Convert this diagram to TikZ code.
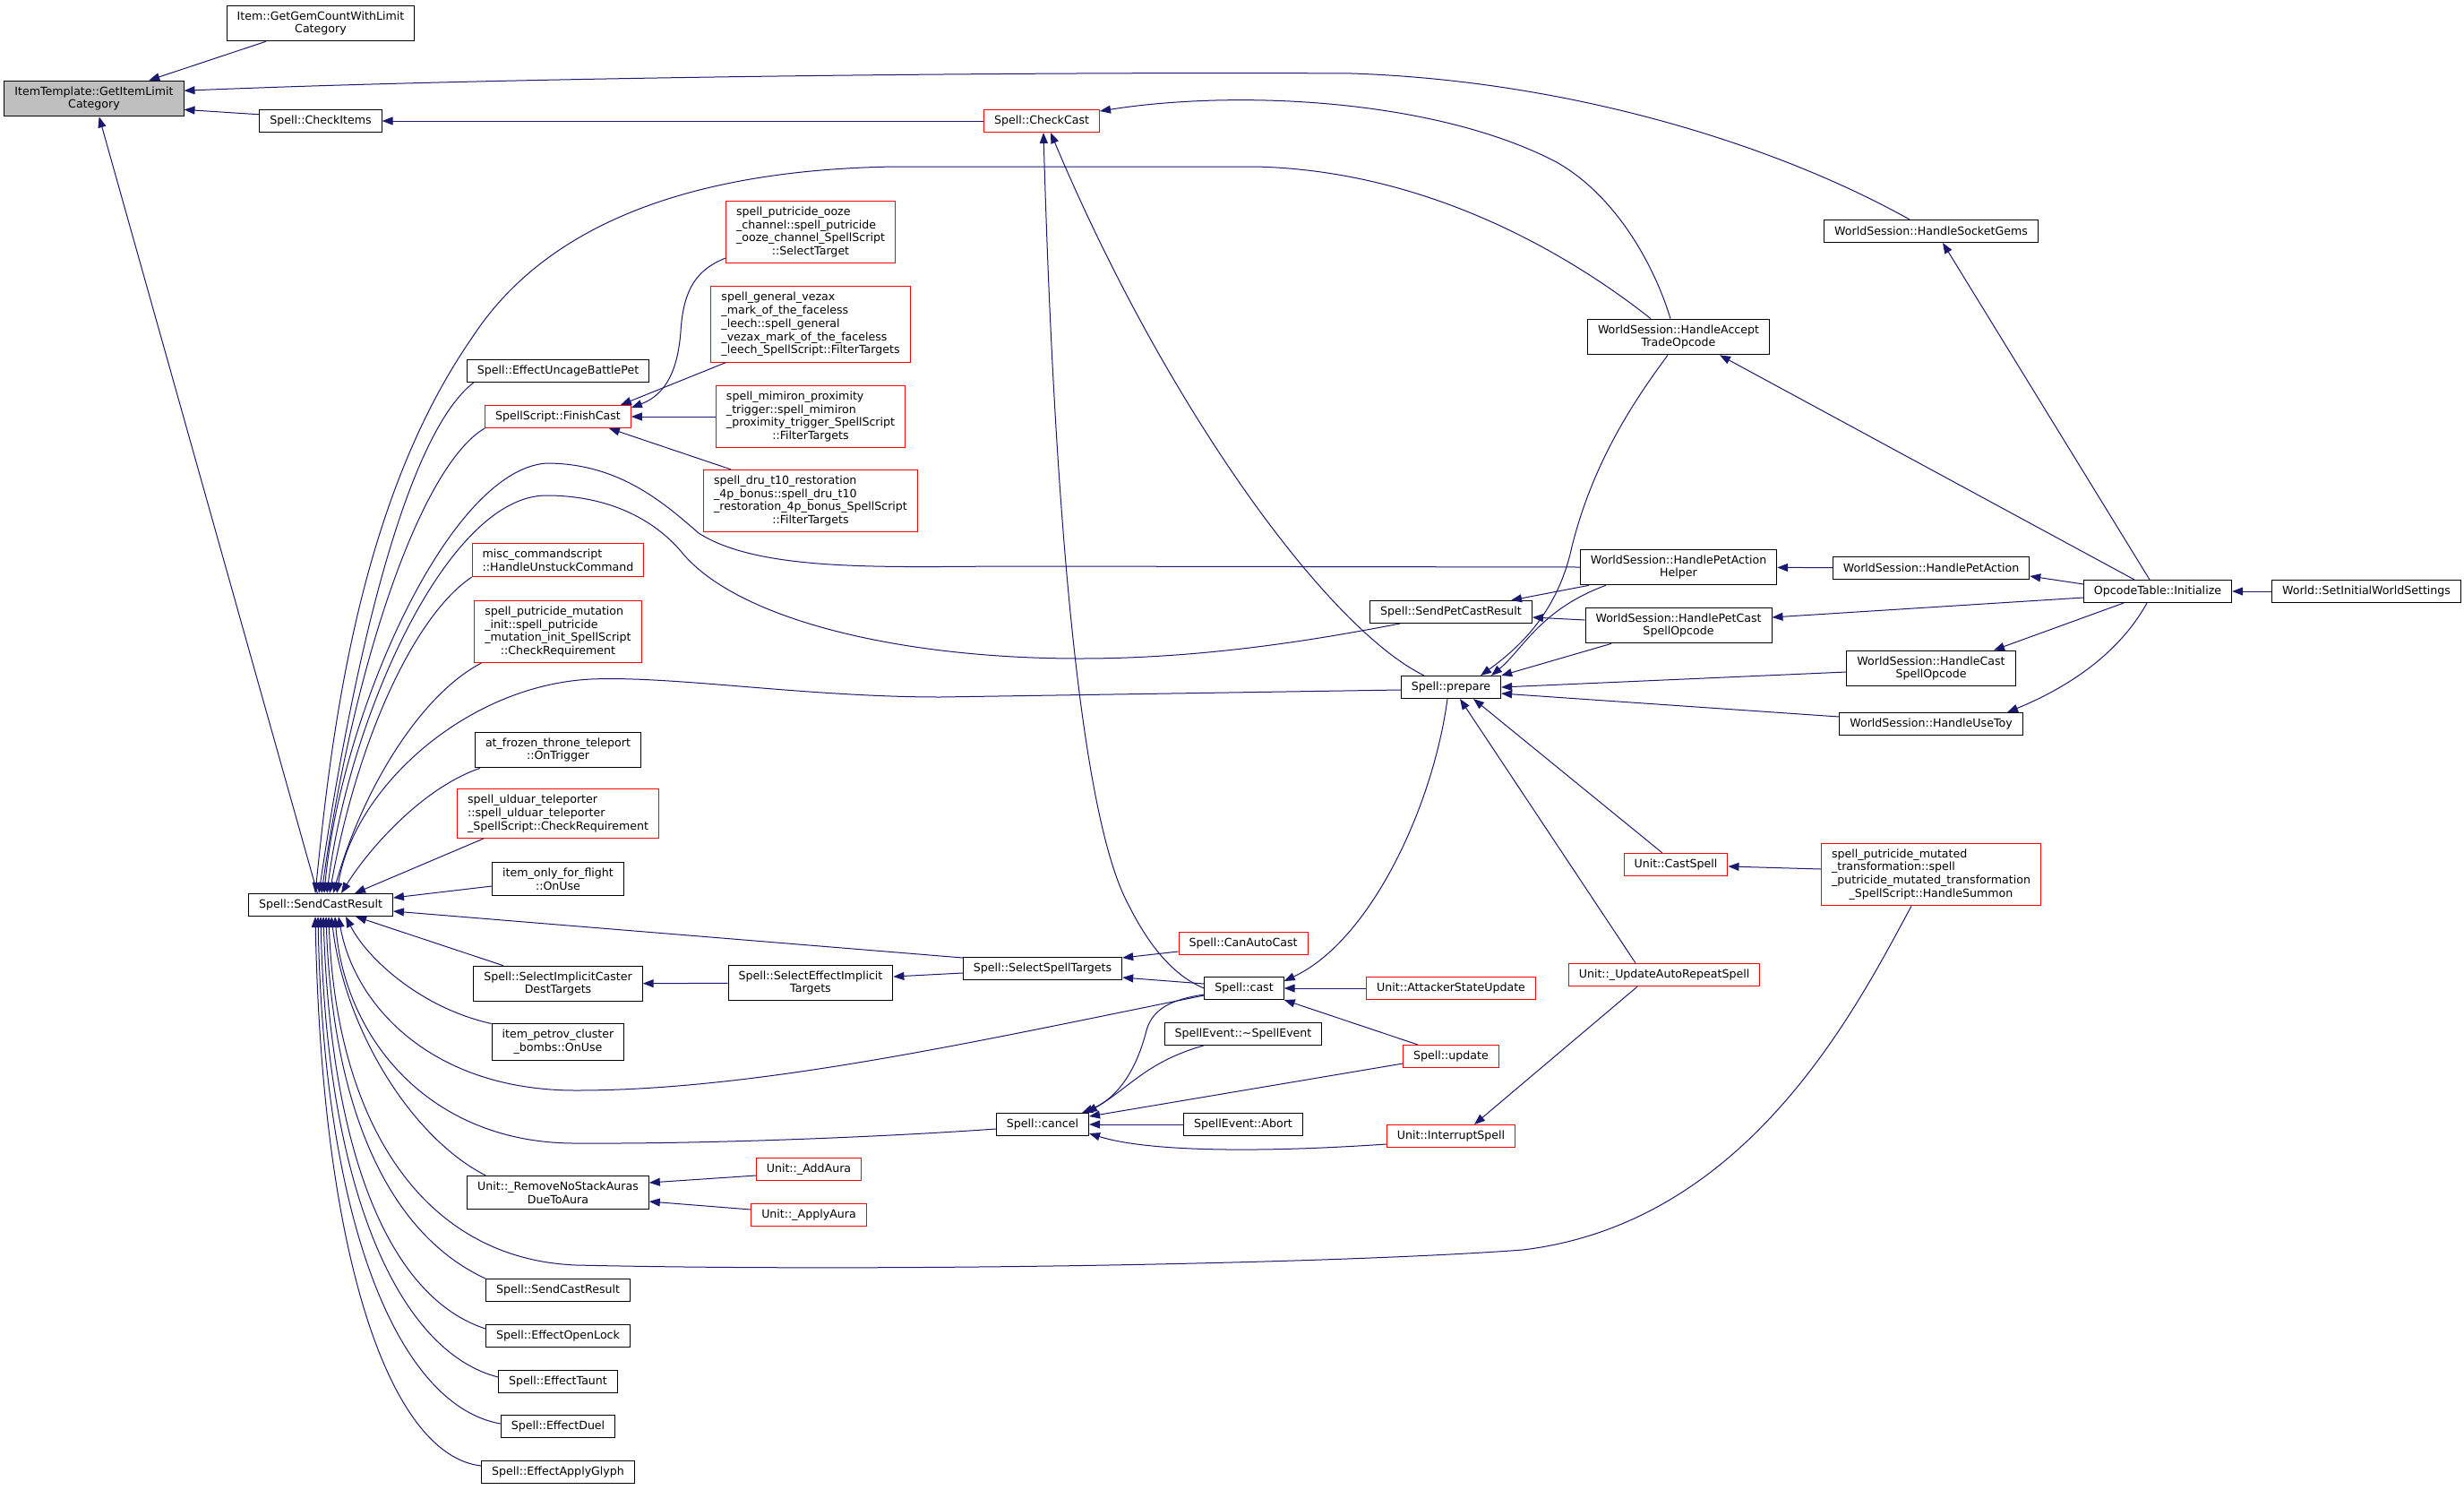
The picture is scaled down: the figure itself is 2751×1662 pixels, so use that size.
\documentclass[tikz,border=0pt]{standalone}
\usepackage{fontspec}
\setmainfont{DejaVu Sans}
\usetikzlibrary{arrows.meta}
\definecolor{Navy}{HTML}{191970}
\definecolor{Alert}{HTML}{FF0000}
\definecolor{Shade}{HTML}{BFBFBF}

\begin{document}
\begin{tikzpicture}[x=1pt,y=-1pt,
  fn/.style={draw=black,line width=1pt,fill=white,align=left,inner xsep=11.5pt,inner ysep=6.4pt,minimum height=25pt,font=\fontsize{12.6}{14.7}\selectfont},
  fnred/.style={fn,draw=Alert},
  call/.style={Navy,line width=1pt,{Triangle[length=12pt,width=9pt]}-}]
  \path[fill=white,use as bounding box] (0,0) rectangle (2751,1662);

  \node[fn,fill=Shade] (root) at (105,110) {ItemTemplate::GetItemLimit\\\hfil Category};
  \node[fn] (gemcount) at (358,26) {Item::GetGemCountWithLimit\\\hfil Category};
  \node[fn] (checkitems) at (358,135) {Spell::CheckItems};
  \node[fn] (scr) at (358,1010) {Spell::SendCastResult};

  \node[fn] (uncage) at (623,414) {Spell::EffectUncageBattlePet};
  \node[fnred] (finishcast) at (623,465) {SpellScript::FinishCast};
  \node[fnred] (misc) at (623,625) {misc\_commandscript\\::HandleUnstuckCommand};
  \node[fnred] (mutinit) at (623,705) {spell\_putricide\_mutation\\\_init::spell\_putricide\\\_mutation\_init\_SpellScript\\\hfil ::CheckRequirement};
  \node[fn] (frozen) at (623,837) {at\_frozen\_throne\_teleport\\\hfil ::OnTrigger};
  \node[fnred] (ulduar) at (623,908) {spell\_ulduar\_teleporter\\::spell\_ulduar\_teleporter\\\_SpellScript::CheckRequirement};
  \node[fn] (flight) at (623,981) {item\_only\_for\_flight\\\hfil ::OnUse};
  \node[fn] (casterdest) at (623,1098) {Spell::SelectImplicitCaster\\\hfil DestTargets};
  \node[fn] (petrov) at (623,1163) {item\_petrov\_cluster\\\hfil \_bombs::OnUse};
  \node[fn] (removenostack) at (623,1331) {Unit::\_RemoveNoStackAuras\\\hfil DueToAura};
  \node[fn] (scr2) at (623,1440) {Spell::SendCastResult};
  \node[fn] (openlock) at (623,1491) {Spell::EffectOpenLock};
  \node[fn] (taunt) at (623,1542) {Spell::EffectTaunt};
  \node[fn] (duel) at (623,1592) {Spell::EffectDuel};
  \node[fn] (glyph) at (623,1643) {Spell::EffectApplyGlyph};

  \node[fnred] (ooze) at (905,259) {spell\_putricide\_ooze\\\_channel::spell\_putricide\\\_ooze\_channel\_SpellScript\\\hfil ::SelectTarget};
  \node[fnred] (vezax) at (905,362) {spell\_general\_vezax\\\_mark\_of\_the\_faceless\\\_leech::spell\_general\\\_vezax\_mark\_of\_the\_faceless\\\_leech\_SpellScript::FilterTargets};
  \node[fnred] (mimiron) at (905,465) {spell\_mimiron\_proximity\\\_trigger::spell\_mimiron\\\_proximity\_trigger\_SpellScript\\\hfil ::FilterTargets};
  \node[fnred] (dru) at (905,559) {spell\_dru\_t10\_restoration\\\_4p\_bonus::spell\_dru\_t10\\\_restoration\_4p\_bonus\_SpellScript\\\hfil ::FilterTargets};
  \node[fn] (effimplicit) at (905,1097) {Spell::SelectEffectImplicit\\\hfil Targets};
  \node[fnred] (addaura) at (903,1305) {Unit::\_AddAura};
  \node[fnred] (applyaura) at (903,1356) {Unit::\_ApplyAura};

  \node[fnred] (checkcast) at (1163,135) {Spell::CheckCast};
  \node[fn] (selectspell) at (1164,1081) {Spell::SelectSpellTargets};
  \node[fn] (cancel) at (1164,1255) {Spell::cancel};
  \node[fnred] (canautocast) at (1388,1053) {Spell::CanAutoCast};
  \node[fn] (cast) at (1389,1103) {Spell::cast};
  \node[fn] (spellevdtor) at (1388,1154) {SpellEvent::\textasciitilde SpellEvent};
  \node[fn] (abort) at (1388,1255) {SpellEvent::Abort};
  \node[fn] (sendpet) at (1620,683) {Spell::SendPetCastResult};
  \node[fn] (prepare) at (1620,767) {Spell::prepare};
  \node[fnred] (attacker) at (1620,1103) {Unit::AttackerStateUpdate};
  \node[fnred] (update) at (1620,1179) {Spell::update};
  \node[fnred] (interrupt) at (1620,1268) {Unit::InterruptSpell};

  \node[fn] (accept) at (1874,376) {WorldSession::HandleAccept\\\hfil TradeOpcode};
  \node[fn] (helper) at (1874,633) {WorldSession::HandlePetAction\\\hfil Helper};
  \node[fn] (petcast) at (1874,698) {WorldSession::HandlePetCast\\\hfil SpellOpcode};
  \node[fnred] (castspell) at (1871,965) {Unit::CastSpell};
  \node[fnred] (autorepeat) at (1858,1088) {Unit::\_UpdateAutoRepeatSpell};
  \node[fn] (socketgems) at (2156,258) {WorldSession::HandleSocketGems};
  \node[fn] (petaction) at (2156,634) {WorldSession::HandlePetAction};
  \node[fn] (castspellop) at (2156,746) {WorldSession::HandleCast\\\hfil SpellOpcode};
  \node[fn] (usetoy) at (2156,808) {WorldSession::HandleUseToy};
  \node[fnred] (mutated) at (2156,976) {spell\_putricide\_mutated\\\_transformation::spell\\\_putricide\_mutated\_transformation\\\hfil \_SpellScript::HandleSummon};
  \node[fn] (initialize) at (2409,660) {OpcodeTable::Initialize};
  \node[fn] (worldset) at (2642,660) {World::SetInitialWorldSettings};

  \draw[call] (root) -- (gemcount);
  \draw[call] (root.5) .. controls (600,85) and (1200,80) .. (1509,82) .. controls (1750,90) and (1980,160) .. ([xshift=-24pt]socketgems.north);
  \draw[call] (root.353) -- (checkitems.174);
  \draw[call] (root) -- (scr);
  \draw[call] (checkitems) -- (checkcast);
  \draw[call] ([yshift=-2pt]checkcast.north east) .. controls (1380,100) and (1600,110) .. (1736,180) .. controls (1800,215) and (1845,290) .. ([xshift=-9pt]accept.north);
  \draw[call] ([xshift=2pt]checkcast.south) .. controls (1175,500) and (1200,900) .. (1260,1010) .. controls (1290,1070) and (1320,1093) .. (cast.west);
  \draw[call] ([xshift=10pt]checkcast.south) .. controls (1300,450) and (1480,700) .. ([xshift=-30pt]prepare.north);

  \draw[call] ([xshift=-6pt]scr.north) .. controls (370,820) and (400,560) .. (527,377) .. controls (590,280) and (720,190) .. (1000,186) -- (1400,186) .. controls (1600,190) and (1760,290) .. ([xshift=-31pt]accept.north);
  \draw[call] ([xshift=-2pt]scr.north) .. controls (400,700) and (460,480) .. ([xshift=8pt]uncage.south west);
  \draw[call] ([xshift=1pt]scr.north) .. controls (395,740) and (470,520) .. (finishcast.south west);
  \draw[call] ([xshift=4pt]scr.north) .. controls (380,800) and (500,525) .. (610,517) .. controls (690,517) and (740,560) .. (780,595) .. controls (850,640) and (1000,632) .. (1140,632) -- (helper.west);
  \draw[call] ([xshift=7pt]scr.north) .. controls (390,800) and (500,553) .. (610,553) .. controls (680,553) and (730,580) .. (760,615) .. controls (820,690) and (1000,735) .. (1206,735) .. controls (1350,735) and (1480,712) .. ([xshift=-57pt]sendpet.south);
  \draw[call] ([xshift=10pt]scr.north) .. controls (400,820) and (465,685) .. (misc.south west);
  \draw[call] ([xshift=14pt]scr.north) .. controls (405,880) and (470,775) .. ([xshift=8pt]mutinit.south west);
  \draw[call] ([xshift=18pt]scr.north) .. controls (395,880) and (520,765) .. (660,758) .. controls (750,754) and (900,778) .. (1050,778) -- ([yshift=-3pt]prepare.west);
  \draw[call] ([xshift=23pt]scr.north) .. controls (410,950) and (470,880) .. ([xshift=6pt]frozen.south west);
  \draw[call] ([xshift=38pt]scr.north) -- ([xshift=30pt]ulduar.south west);
  \draw[call] ([yshift=8pt]scr.east) -- ([yshift=-8pt]flight.west);

  \draw[call] ([yshift=-7pt]scr.east) -- ([yshift=12pt]selectspell.west);
  \draw[call] (scr) -- (casterdest);
  \draw[call] ([xshift=28pt]scr.south) .. controls (410,1070) and (470,1125) .. (petrov.north west);
  \draw[call] ([xshift=20pt]scr.south) .. controls (395,1120) and (480,1217) .. (643,1217) .. controls (850,1217) and (1100,1160) .. ([yshift=-8pt]cast.west);
  \draw[call] ([xshift=16pt]scr.south) .. controls (385,1160) and (480,1275) .. (640,1276) .. controls (800,1277) and (1000,1268) .. ([yshift=-5pt]cancel.west);
  \draw[call] ([xshift=12pt]scr.south) .. controls (385,1150) and (460,1270) .. ([xshift=21pt]removenostack.north west);
  \draw[call] ([xshift=9pt]scr.south) .. controls (375,1250) and (470,1405) .. (643,1412) .. controls (1000,1420) and (1500,1410) .. (1700,1395) .. controls (1950,1365) and (2070,1130) .. ([xshift=-22pt]mutated.south);
  \draw[call] ([xshift=6pt]scr.south) .. controls (372,1250) and (440,1380) .. (scr2.north west);
  \draw[call] ([xshift=3pt]scr.south) .. controls (370,1300) and (440,1450) .. ([yshift=8pt]openlock.west);
  \draw[call] (scr.south) .. controls (365,1340) and (450,1510) .. ([yshift=5pt]taunt.west);
  \draw[call] ([xshift=-3pt]scr.south) .. controls (362,1380) and (450,1570) .. ([yshift=3pt]duel.west);
  \draw[call] ([xshift=-6pt]scr.south) .. controls (360,1420) and (440,1625) .. ([yshift=7pt]glyph.west);

  \draw[call] ([yshift=-3pt]finishcast.north east) .. controls (745,440) and (757,410) .. (760,370) .. controls (763,320) and (780,300) .. ([yshift=6pt]ooze.south west);
  \draw[call] ([xshift=-12pt]finishcast.north east) -- ([xshift=17pt]vezax.south west);
  \draw[call] (finishcast) -- (mimiron);
  \draw[call] ([xshift=-25pt]finishcast.south east) -- ([xshift=31pt]dru.north west);

  \draw[call] (casterdest) -- (effimplicit);
  \draw[call] ([yshift=7pt]effimplicit.east) -- ([yshift=-5pt]selectspell.west);
  \draw[call] ([yshift=12pt]selectspell.east) -- ([yshift=-9pt]canautocast.west);
  \draw[call] ([yshift=-10pt]selectspell.east) -- ([yshift=5pt]cast.west);
  \draw[call] (cast) -- (attacker);
  \draw[call] (cast.south east) -- ([xshift=-37pt]update.north);
  \draw[call] ([yshift=8pt]cast.east) .. controls (1530,1050) and (1600,900) .. ([xshift=-4pt]prepare.south);

  \draw[call] ([xshift=-3pt]cancel.north east) .. controls (1260,1215) and (1280,1185) .. ([xshift=44pt]spellevdtor.south west);
  \draw[call] ([xshift=-8pt]cancel.north east) .. controls (1250,1225) and (1270,1190) .. (1280,1150) .. controls (1287,1125) and (1310,1115) .. ([yshift=-7pt]cast.west);
  \draw[call] ([yshift=-4pt]cancel.north east) -- ([yshift=-8pt]update.west);
  \draw[call] (cancel) -- (abort);
  \draw[call] ([yshift=-10pt]cancel.east) .. controls (1280,1285) and (1400,1287) .. ([yshift=-9pt]interrupt.west);

  \draw[call] ([xshift=25pt]prepare.south) -- ([xshift=-15pt]castspell.north);
  \draw[call] ([xshift=10pt]prepare.south) -- ([xshift=-32pt]autorepeat.north);
  \draw[call] ([yshift=-2pt]castspell.east) -- ([yshift=6pt]mutated.west);
  \draw[call] ([xshift=26pt]interrupt.north) -- ([xshift=-30pt]autorepeat.south);

  \draw[call] ([xshift=33pt]prepare.north) .. controls (1700,720) and (1740,680) .. (1755,610) .. controls (1780,510) and (1830,440) .. ([xshift=-12pt]accept.south);
  \draw[call] ([xshift=45pt]prepare.north) .. controls (1700,725) and (1720,680) .. ([xshift=29pt]helper.south west);
  \draw[call] (prepare.north east) -- ([xshift=-75pt]petcast.south);
  \draw[call] (prepare.east) -- ([yshift=-4pt]castspellop.west);
  \draw[call] ([yshift=-7pt]prepare.east) -- ([yshift=8pt]usetoy.west);
  \draw[call] ([xshift=67pt]sendpet.north) -- ([xshift=10pt]helper.south west);
  \draw[call] ([yshift=-6pt]sendpet.east) -- ([yshift=6pt]petcast.west);

  \draw[call] (helper) -- (petaction);
  \draw[call] ([yshift=-9pt]petaction.east) -- ([yshift=8pt]initialize.west);
  \draw[call] ([yshift=9pt]petcast.east) -- ([yshift=-7pt]initialize.west);
  \draw[call] ([xshift=70pt]castspellop.north) -- ([xshift=-38pt]initialize.south);
  \draw[call] ([xshift=85pt]usetoy.north) .. controls (2290,775) and (2360,740) .. ([xshift=-12pt]initialize.south);
  \draw[call] ([xshift=46pt]accept.south) -- ([xshift=-26pt]initialize.north);
  \draw[call] ([xshift=13pt]socketgems.south) -- ([xshift=-9pt]initialize.north);
  \draw[call] (initialize) -- (worldset);
  \draw[call] ([yshift=11pt]removenostack.east) -- ([yshift=-7pt]addaura.west);
  \draw[call] ([yshift=-10pt]removenostack.east) -- ([yshift=6pt]applyaura.west);
\end{tikzpicture}
\end{document}
